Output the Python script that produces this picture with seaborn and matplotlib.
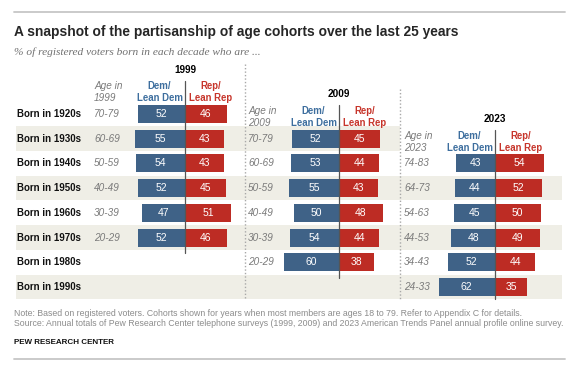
import numpy as np
import pandas as pd
import seaborn as sns
import matplotlib
matplotlib.use('Agg')
import matplotlib.pyplot as plt
from matplotlib.lines import Line2D

sns.set_style('white')
plt.rcParams['font.family'] = ['Liberation Sans', 'DejaVu Sans']

# data
cohorts = ['Born in 1920s', 'Born in 1930s', 'Born in 1940s', 'Born in 1950s',
           'Born in 1960s', 'Born in 1970s', 'Born in 1980s', 'Born in 1990s']

years = ['1999', '2009', '2023']
first_row = [0, 1, 2]  # index of first cohort shown in each panel

ages_1999 = ['70-79', '60-69', '50-59', '40-49', '30-39', '20-29']
dem_1999 = [52, 55, 54, 52, 47, 52]
rep_1999 = [46, 43, 43, 45, 51, 46]

ages_2009 = ['70-79', '60-69', '50-59', '40-49', '30-39', '20-29']
dem_2009 = [52, 53, 55, 50, 54, 60]
rep_2009 = [45, 44, 43, 48, 44, 38]

ages_2023 = ['74-83', '64-73', '54-63', '44-53', '34-43', '24-33']
dem_2023 = [43, 44, 45, 48, 52, 62]
rep_2023 = [54, 52, 50, 49, 44, 35]

panel_data = [(ages_1999, dem_1999, rep_1999),
              (ages_2009, dem_2009, rep_2009),
              (ages_2023, dem_2023, rep_2023)]

DEM = '#3f6287'
REP = '#bd2c24'
DEM_TXT = '#3d6e9e'
REP_TXT = '#c7352b'
BAND = '#efeee6'
GREY = '#7a7a7a'

W, H = 580, 365
fig = plt.figure(figsize=(W / 100, H / 100), dpi=100)

# pixel layout: (left, center, right) of each panel
panels_px = [(16, 185, 245), (245, 339, 400), (400, 495, 562)]
scale = 0.91          # px per percentage point
row0, step = 114, 24.71
top_px = row0 - 2.5 * step
bot_px = row0 + 7.5 * step


def px2fig_y(y):
    return 1 - y / H


for k, (year, first, (ages, dem, rep)) in enumerate(zip(years, first_row, panel_data)):
    left, center, right = panels_px[k]
    ax = fig.add_axes([left / W, px2fig_y(bot_px), (right - left) / W, (bot_px - top_px) / H])
    ax.patch.set_alpha(0)

    rows = cohorts[first:first + len(ages)]
    df = pd.DataFrame({
        'cohort': rows * 2,
        'party': ['Dem'] * len(rows) + ['Rep'] * len(rows),
        'value': [-v for v in dem] + list(rep),
    })
    sns.barplot(data=df, x='value', y='cohort', hue='party', order=cohorts,
                hue_order=['Dem', 'Rep'], palette=[DEM, REP], dodge=False,
                width=0.73, orient='h', errorbar=None, legend=False, saturation=1,
                linewidth=0, ax=ax, zorder=2)

    # alternating bands
    for i in range(first, len(cohorts)):
        if i % 2 == 1:
            ax.axhspan(i - 0.5, i + 0.5, color=BAND, zorder=0, lw=0)

    # value labels
    for i, (d, r) in enumerate(zip(dem, rep)):
        y = first + i
        ax.text(-d / 2, y, str(d), color='white', ha='center', va='center', fontsize=7.5, zorder=3)
        ax.text(r / 2, y, str(r), color='white', ha='center', va='center', fontsize=7.5, zorder=3)
        ax.text(-100, y, ages[i], color=GREY, ha='left', va='center', fontsize=7.2,
                style='italic', zorder=3)

    last = first + len(ages) - 1
    ax.plot([0, 0], [first - 1.35, min(last + 0.63, 7.5)], color='#555555', lw=0.9,
            zorder=4, clip_on=False)

    hy = first - 0.88
    ax.text(-28, hy, 'Dem/\nLean Dem', color=DEM_TXT, ha='center', va='center',
            fontsize=6.9, fontweight='bold', linespacing=1.25)
    ax.text(28, hy, 'Rep/\nLean Rep', color=REP_TXT, ha='center', va='center',
            fontsize=6.9, fontweight='bold', linespacing=1.25)
    ax.text(-100, hy, 'Age in\n' + year, color=GREY, ha='left', va='center',
            fontsize=7.2, style='italic', linespacing=1.25)
    ax.text(0, first - 1.8, year, color='black', ha='center', va='center',
            fontsize=7.2, fontweight='bold')

    if k == 0:
        for i, c in enumerate(cohorts):
            ax.text(-184.5, i, c, ha='left', va='center', fontsize=7,
                    fontweight='bold', color='#111111', zorder=3)
    else:
        ax.plot([(left - center) / scale] * 2, [first - 3.03, 7.5], color='#a8a8a8',
                lw=1, ls=(0, (1, 1.5)), clip_on=False, zorder=4)

    ax.set_xlim((left - center) / scale, (right - center) / scale)
    ax.set_ylim(7.5, -2.5)
    ax.axis('off')

# titles and footer
fig.text(14 / W, px2fig_y(32), 'A snapshot of the partisanship of age cohorts over the last 25 years',
         fontsize=9.9, fontweight='bold', va='center', ha='left')
fig.text(14 / W, px2fig_y(52), '% of registered voters born in each decade who are ...',
         fontsize=8.2, style='italic', family=['Liberation Serif', 'DejaVu Serif'],
         color='#707070', va='center', ha='left')
fig.text(14 / W, px2fig_y(313),
         'Note: Based on registered voters. Cohorts shown for years when most members are ages 18 to 79. '
         'Refer to Appendix C for details.',
         fontsize=6.3, color='#8c8c8c', va='center', ha='left')
fig.text(14 / W, px2fig_y(323),
         'Source: Annual totals of Pew Research Center telephone surveys (1999, 2009) and 2023 '
         'American Trends Panel annual profile online survey.',
         fontsize=6.3, color='#8c8c8c', va='center', ha='left')
fig.text(14 / W, px2fig_y(342), 'PEW RESEARCH CENTER', fontsize=5.8, fontweight='bold',
         color='#111111', va='center', ha='left')

for y in (12, 359):
    fig.add_artist(Line2D([14 / W, 565 / W], [px2fig_y(y)] * 2, color='#c6c6c6', lw=1.3,
                          transform=fig.transFigure))

fig.savefig('out.png', dpi=100, facecolor='white')
